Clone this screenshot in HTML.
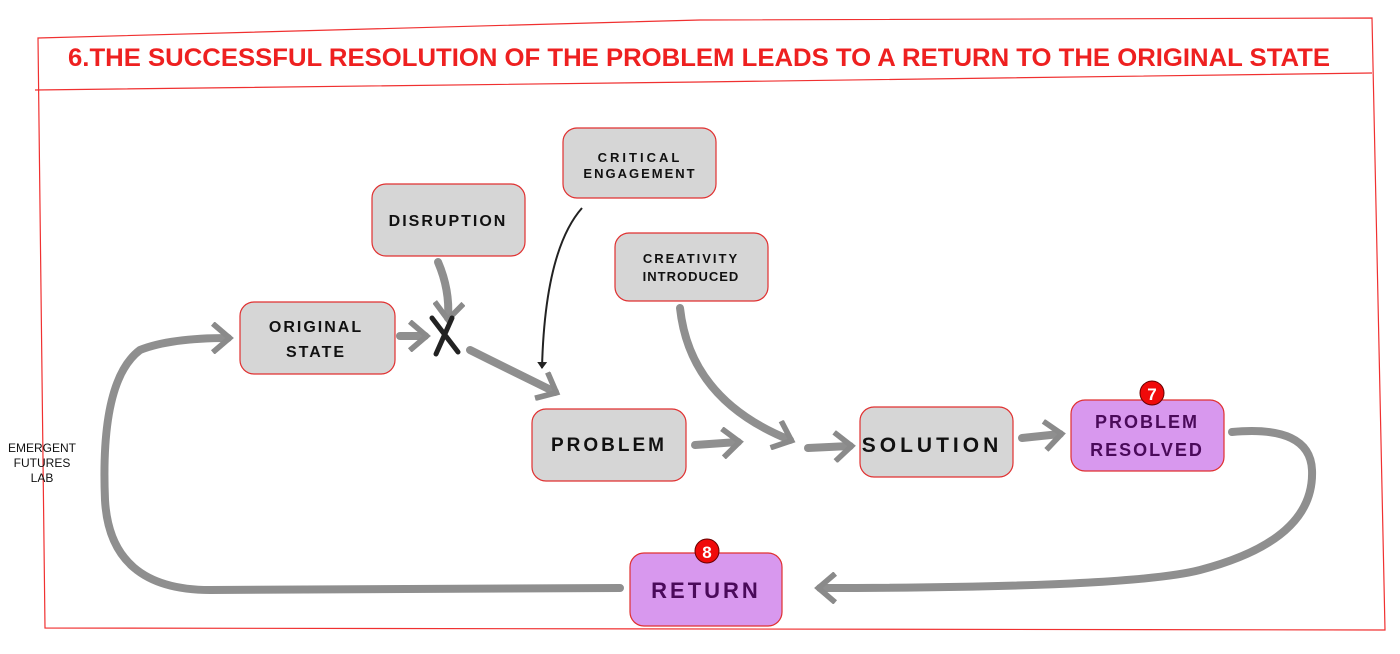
<!DOCTYPE html>
<html><head><style>
html,body{margin:0;padding:0;background:#fff;}
svg{display:block}
text{font-family:"Liberation Sans",sans-serif;}
</style></head><body>
<svg width="1400" height="654" viewBox="0 0 1400 654" xmlns="http://www.w3.org/2000/svg">
<defs>
<marker id="ah" markerWidth="4" markerHeight="4" refX="2.2" refY="2" orient="auto" markerUnits="strokeWidth">
<path d="M0.3,0.2 L2.4,2 L0.3,3.8" fill="none" stroke="#8a8a8a" stroke-width="0.7"/>
</marker>
<marker id="ahb" markerWidth="6" markerHeight="6" refX="3" refY="3" orient="auto" markerUnits="strokeWidth">
<path d="M0,0.5 L3.5,3 L0,5.5 Z" fill="#222"/>
</marker>
</defs>
<!-- frame -->
<path d="M38,38 L700,20 L1372,18 L1385,630 L45,628 Z" fill="none" stroke="#f03030" stroke-width="1.2"/>
<path d="M35,90 L700,82 L1372,73" fill="none" stroke="#f03030" stroke-width="1.2"/>
<text x="68" y="66" font-size="25" font-weight="bold" fill="#ee2020" textLength="1262" lengthAdjust="spacingAndGlyphs">6.THE SUCCESSFUL RESOLUTION OF THE PROBLEM LEADS TO A  RETURN TO THE  ORIGINAL STATE</text>
<!-- logo -->
<text x="42" y="452" font-size="12" text-anchor="middle" fill="#111">EMERGENT</text>
<text x="42" y="467" font-size="12" text-anchor="middle" fill="#111">FUTURES</text>
<text x="42" y="482" font-size="12" text-anchor="middle" fill="#111">LAB</text>
<!-- connectors -->
<g fill="none" stroke="#8f8f8f" stroke-width="8" stroke-linecap="round">
<path d="M620,588 L210,590 Q110,590 105,500 Q100,380 140,350 Q170,338 228,338" marker-end="url(#ah)"/>
<path d="M1232,432 Q1310,425 1312,470 Q1315,540 1200,570 Q1130,588 820,588" marker-end="url(#ah)"/>
<path d="M400,336 L425,336" marker-end="url(#ah)"/>
<path d="M438,262 Q450,290 448,318" marker-end="url(#ah)"/>
<path d="M470,350 Q510,370 555,392" marker-end="url(#ah)"/>
<path d="M695,445 L738,442" marker-end="url(#ah)"/>
<path d="M680,308 Q690,400 790,440" marker-end="url(#ah)"/>
<path d="M808,448 L850,446" marker-end="url(#ah)"/>
<path d="M1022,438 L1060,434" marker-end="url(#ah)"/>
</g>
<path d="M582,208 Q545,250 542,368" fill="none" stroke="#222" stroke-width="2" marker-end="url(#ahb)"/>
<!-- X -->
<path d="M432,318 L458,352 M452,318 L436,354" stroke="#222" stroke-width="5" stroke-linecap="round"/>
<!-- nodes -->
<g stroke="#e03030" stroke-width="1.2">
<rect x="240" y="302" width="155" height="72" rx="14" fill="#d6d6d6"/>
<rect x="372" y="184" width="153" height="72" rx="14" fill="#d6d6d6"/>
<rect x="563" y="128" width="153" height="70" rx="14" fill="#d6d6d6"/>
<rect x="615" y="233" width="153" height="68" rx="14" fill="#d6d6d6"/>
<rect x="532" y="409" width="154" height="72" rx="14" fill="#d6d6d6"/>
<rect x="860" y="407" width="153" height="70" rx="14" fill="#d6d6d6"/>
<rect x="1071" y="400" width="153" height="71" rx="14" fill="#d898ee"/>
<rect x="630" y="553" width="152" height="73" rx="14" fill="#d898ee"/>
</g>
<g font-weight="bold" text-anchor="middle" fill="#111">
<text x="316" y="332" font-size="16" letter-spacing="2">ORIGINAL</text>
<text x="316" y="357" font-size="16" letter-spacing="2">STATE</text>
<text x="448" y="226" font-size="16" letter-spacing="2">DISRUPTION</text>
<text x="640" y="162" font-size="13" letter-spacing="3">CRITICAL</text>
<text x="640" y="178" font-size="13" letter-spacing="2">ENGAGEMENT</text>
<text x="691" y="263" font-size="13" letter-spacing="2">CREATIVITY</text>
<text x="691" y="281" font-size="13" letter-spacing="1">INTRODUCED</text>
<text x="609" y="451" font-size="19" letter-spacing="3">PROBLEM</text>
<text x="932" y="452" font-size="21" letter-spacing="4">SOLUTION</text>
<text x="1147" y="428" font-size="18" letter-spacing="2" fill="#4a0a5a">PROBLEM</text>
<text x="1147" y="456" font-size="18" letter-spacing="2" fill="#4a0a5a">RESOLVED</text>
<text x="706" y="598" font-size="22" letter-spacing="3" fill="#4a0a5a">RETURN</text>
</g>
<circle cx="1152" cy="393" r="12" fill="#f00a0a" stroke="#600" stroke-width="1"/>
<text x="1152" y="400" font-size="17" font-weight="bold" fill="#fff" text-anchor="middle">7</text>
<circle cx="707" cy="551" r="12" fill="#f00a0a" stroke="#600" stroke-width="1"/>
<text x="707" y="558" font-size="17" font-weight="bold" fill="#fff" text-anchor="middle">8</text>
</svg>
</body></html>
